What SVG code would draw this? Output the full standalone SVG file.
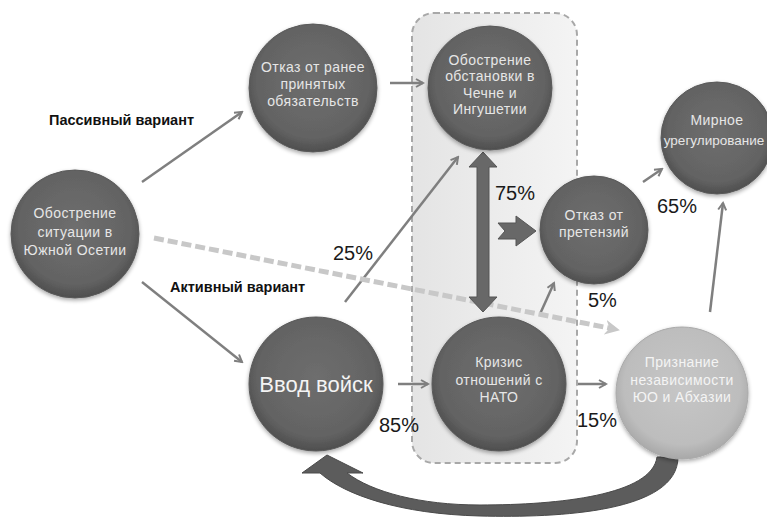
<svg xmlns="http://www.w3.org/2000/svg" width="767" height="522" viewBox="0 0 767 522">
<defs>
<radialGradient id="gDark" cx="50%" cy="45%" r="55%">
<stop offset="0" stop-color="#6e6e6e"/>
<stop offset="0.8" stop-color="#636363"/>
<stop offset="1" stop-color="#4e4e4e"/>
</radialGradient>
<radialGradient id="gLight" cx="50%" cy="45%" r="55%">
<stop offset="0" stop-color="#c6c6c6"/>
<stop offset="0.8" stop-color="#bdbdbd"/>
<stop offset="1" stop-color="#a8a8a8"/>
</radialGradient>
<linearGradient id="gBox" x1="0" y1="0" x2="1" y2="0">
<stop offset="0" stop-color="#e4e4e4"/>
<stop offset="1" stop-color="#f4f4f4"/>
</linearGradient>
<marker id="ah" viewBox="0 0 10 10" refX="8" refY="5" markerWidth="4" markerHeight="4" orient="auto" markerUnits="strokeWidth">
<path d="M1,1 L8,5 L1,9" fill="none" stroke="#7f7f7f" stroke-width="2"/>
</marker>
<marker id="ahd" viewBox="0 0 10 10" refX="6" refY="5" markerWidth="3" markerHeight="3" orient="auto" markerUnits="strokeWidth">
<path d="M0,0 L10,5 L0,10 L3,5 Z" fill="#c8c8c8"/>
</marker>
<filter id="sh" x="-20%" y="-20%" width="140%" height="150%">
<feGaussianBlur in="SourceAlpha" stdDeviation="2"/>
<feOffset dy="2"/>
<feComponentTransfer><feFuncA type="linear" slope="0.35"/></feComponentTransfer>
<feMerge><feMergeNode/><feMergeNode in="SourceGraphic"/></feMerge>
</filter>
</defs>
<style>
.c{fill:url(#gDark);stroke:#5a5a5a;stroke-width:1;filter:url(#sh)}
.cl{fill:url(#gLight);stroke:#aaaaaa;stroke-width:1;filter:url(#sh)}
.t{font-family:"Liberation Sans",Arial,sans-serif;font-size:14px;fill:#e6e6e6;text-anchor:middle;letter-spacing:0.4px}
.tl{font-family:"Liberation Sans",Arial,sans-serif;font-size:14px;fill:#f4f4f4;text-anchor:middle;letter-spacing:0.4px}
.big{font-family:"Liberation Sans",Arial,sans-serif;font-size:22px;fill:#f4f4f4;text-anchor:middle}
.lab{font-family:"Liberation Sans",Arial,sans-serif;font-size:14.5px;font-weight:bold;fill:#111}
.pct{font-family:"Liberation Sans",Arial,sans-serif;font-size:20px;fill:#1a1a1a}
.ln{fill:none;stroke:#7f7f7f;stroke-width:2.5;marker-end:url(#ah)}
</style>
<rect width="767" height="522" fill="#ffffff"/>
<g id="group-box">
<rect x="412" y="13" width="165" height="450" rx="22" fill="url(#gBox)" stroke="#a8a8a8" stroke-width="2" stroke-dasharray="6 4"/>
</g>
<g id="connectors">
<line class="ln" x1="142" y1="182" x2="242" y2="112"/>
<line class="ln" x1="142" y1="282" x2="242" y2="362"/>
<line class="ln" x1="390" y1="83" x2="423" y2="83"/>
<line class="ln" x1="345" y1="302" x2="458" y2="157"/>
<line class="ln" x1="398" y1="384" x2="428" y2="384"/>
<line class="ln" x1="578" y1="384" x2="606" y2="384"/>
<line class="ln" x1="540" y1="314" x2="554" y2="283"/>
<line class="ln" x1="643" y1="182" x2="662" y2="169"/>
<line class="ln" x1="710" y1="312" x2="723" y2="203"/>
<line x1="154" y1="238" x2="614" y2="329" fill="none" stroke="#c8c8c8" stroke-width="5" stroke-dasharray="10 4" marker-end="url(#ahd)"/>
<polygon points="483,152 497,167 489,167 489,297 497,297 483,312 469,297 477,297 477,167 469,167" fill="#686868" stroke="#555555" stroke-width="1"/>
<polygon points="498,223 516,223 516,216 536,231 516,246 516,239 498,239 505,231" fill="#686868" stroke="#555555" stroke-width="1"/>
<path d="M657 457 L678 457 C678 512 560 518 480 516 C400 514 345 495 320 473 L302 473 L327 455 L363 473 L347 473 C372 492 420 505 480 505 C560 505 652 495 657 457 Z" fill="#5c5c5c" stroke="#4a4a4a" stroke-width="1"/>
</g>
<g id="node-osetia">
<circle class="c" cx="75" cy="234" r="64"/>
<text class="t" x="75" y="218">Обострение</text>
<text class="t" x="75" y="237">ситуации в</text>
<text class="t" x="75" y="255">Южной Осетии</text>
</g>
<g id="node-otkaz-obyaz">
<circle class="c" cx="313" cy="88" r="64"/>
<text class="t" x="313" y="72">Отказ от ранее</text>
<text class="t" x="313" y="89">принятых</text>
<text class="t" x="313" y="106">обязательств</text>
</g>
<g id="node-chechnya">
<circle class="c" cx="490" cy="88" r="62"/>
<text class="t" x="490" y="65">Обострение</text>
<text class="t" x="490" y="81">обстановки в</text>
<text class="t" x="490" y="98">Чечне и</text>
<text class="t" x="490" y="114">Ингушетии</text>
</g>
<g id="node-vvod">
<circle class="c" cx="316" cy="384" r="67"/>
<text class="big" x="316" y="392">Ввод войск</text>
</g>
<g id="node-nato">
<circle class="c" cx="499" cy="384" r="67"/>
<text class="t" x="499" y="367">Кризис</text>
<text class="t" x="499" y="385">отношений с</text>
<text class="t" x="499" y="402">НАТО</text>
</g>
<g id="node-otkaz-pret">
<circle class="c" cx="594" cy="230" r="54"/>
<text class="t" x="594" y="220">Отказ от</text>
<text class="t" x="594" y="237">претензий</text>
</g>
<g id="node-mir">
<circle class="c" cx="717" cy="138" r="56"/>
<text class="t" x="717" y="125">Мирное</text>
<text class="t" x="714" y="145" style="font-size:13.5px;letter-spacing:0px">урегулирование</text>
</g>
<g id="node-priznanie">
<circle class="cl" cx="682" cy="393" r="66"/>
<text class="tl" x="682" y="367">Признание</text>
<text class="tl" x="682" y="385">независимости</text>
<text class="tl" x="682" y="402">ЮО и Абхазии</text>
</g>
<g id="labels">
<text class="lab" x="49" y="125">Пассивный вариант</text>
<text class="lab" x="170" y="292">Активный вариант</text>
<text class="pct" x="333" y="260">25%</text>
<text class="pct" x="495" y="200">75%</text>
<text class="pct" x="657" y="213">65%</text>
<text class="pct" x="588" y="307">5%</text>
<text class="pct" x="379" y="432">85%</text>
<text class="pct" x="577" y="427">15%</text>
</g>
</svg>
